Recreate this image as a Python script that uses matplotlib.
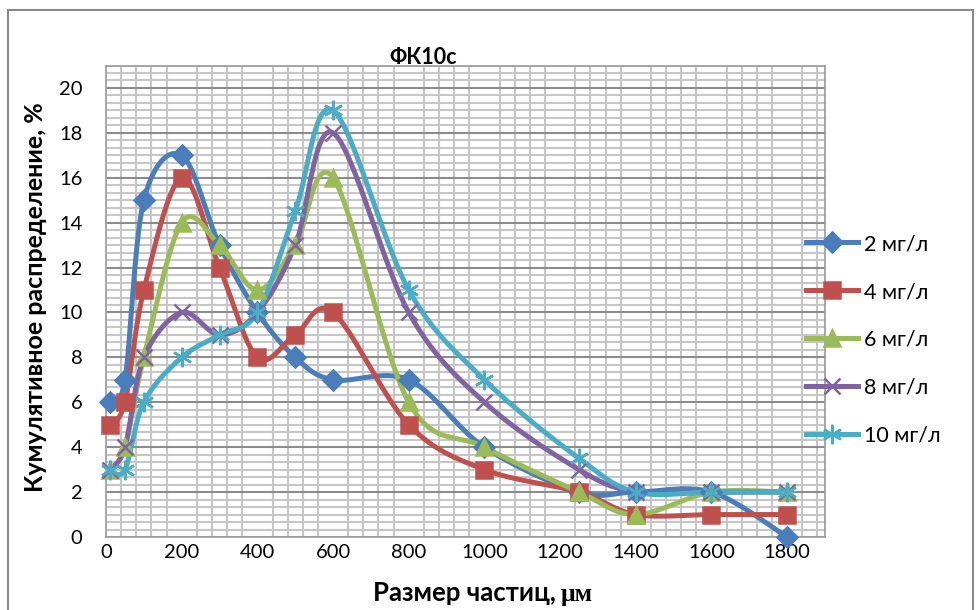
import matplotlib
matplotlib.use("Agg")
import matplotlib.pyplot as plt
from matplotlib.lines import Line2D
from matplotlib.patches import Rectangle
from matplotlib.ticker import MultipleLocator
import numpy as np

# размер частиц, мкм
sizes = [10, 50, 100, 200, 300, 400, 500, 600, 800, 1000, 1250, 1400, 1600, 1800]

c2 = [6, 7, 15, 17, 13, 10, 8, 7, 7, 4, 2, 2, 2, 0]
c4 = [5, 6, 11, 16, 12, 8, 9, 10, 5, 3, 2, 1, 1, 1]
c6 = [3, 4, 8, 14, 13, 11, 13, 16, 6, 4, 2, 1, 2, 2]
c8 = [3, 4, 8, 10, 9, 10, 13, 18, 10, 6, 3, 2, 2, 2]
c10 = [3, 3, 6, 8, 9, 10, 14.5, 19, 11, 7, 3.5, 2, 2, 2]

labels = ["2 мг/л", "4 мг/л", "6 мг/л", "8 мг/л", "10 мг/л"]
series = [c2, c4, c6, c8, c10]
colors = ["#4A7EBB", "#C0504D", "#9BBB59", "#8064A2", "#4BACC6"]
markers = ["D", "s", "^", "x", (6, 2, 0)]
msizes = [10, 12, 12, 12, 14]

FONT = ["Lato", "DejaVu Sans"]
plt.rcParams["font.family"] = FONT

W, H = 976, 610
fig = plt.figure(figsize=(W / 100, H / 100), dpi=100)
ax = fig.add_axes([106 / W, 1 - 537 / H, (825 - 106) / W, (537 - 65.5) / H])
ax.set_xlim(0, 1900)
ax.set_ylim(0, 21)


def smooth(ax, xs, ys, n=30):
    # кривая Безье как в Excel (сглаженная линия), в экранных координатах
    pts = ax.transData.transform(np.column_stack([xs, ys]))
    P = np.vstack([pts[0], pts, pts[-1]])
    out = []
    t = np.linspace(0, 1, n)[:, None]
    for i in range(len(pts) - 1):
        p0, p1, p2, p3 = P[i], P[i + 1], P[i + 2], P[i + 3]
        k1 = p1 + (p2 - p0) / 6
        k2 = p2 - (p3 - p1) / 6
        seg = (1 - t) ** 3 * p1 + 3 * (1 - t) ** 2 * t * k1 + 3 * (1 - t) * t ** 2 * k2 + t ** 3 * p2
        out.append(seg if i == 0 else seg[1:])
    return ax.transData.inverted().transform(np.vstack(out))


handles = []
for ys, col, mk, ms, lab in zip(series, colors, markers, msizes, labels):
    cur = smooth(ax, sizes, ys)
    ax.plot(cur[:, 0], cur[:, 1], color=col, lw=3.6, zorder=3, solid_capstyle="round")
    ax.plot(sizes, ys, ls="none", marker=mk, ms=ms, color=col, mec=col, mew=1.8, zorder=4,
            clip_on=False)
    handles.append(Line2D([], [], color=col, lw=3.6, marker=mk, ms=ms, mec=col, mew=1.8, label=lab))

# сетка
ax.xaxis.set_major_locator(MultipleLocator(200))
ax.xaxis.set_minor_locator(MultipleLocator(40))
ax.yaxis.set_major_locator(MultipleLocator(2))
ax.yaxis.set_minor_locator(MultipleLocator(1 / 3))
ax.grid(True, axis="y", which="major", color="#8c8c8c", lw=1.5, zorder=1)
ax.grid(True, axis="y", which="minor", color="#c6c6c6", lw=1.5, zorder=0)
ax.grid(True, axis="x", which="minor", color="#c6c6c6", lw=1.5, zorder=0)
ax.set_axisbelow(True)
ax.tick_params(which="both", length=0)
ax.tick_params(axis="y", pad=17, labelsize=14.5)
ax.tick_params(axis="x", pad=5, labelsize=14.5)
for s in ax.spines.values():
    s.set_color("#a0a0a0")
    s.set_linewidth(1.3)
ax.set_xticks(range(0, 1801, 200))

fig.text(423 / W, 1 - 57 / H, "ФК10с", ha="center", va="center", fontsize=15.5, fontweight="bold")
fig.text(36 / W, 1 - 297 / H, "Кумулятивное распределение, %", rotation=90, ha="center",
         va="center", fontsize=18, fontweight="bold")
fig.text(556 / W, 1 - 593 / H, "Размер частиц,", ha="right", va="center", fontsize=18.5,
         fontweight="bold")
fig.text(561 / W, 1 - 594 / H, "μм", ha="left", va="center", fontsize=18.5, fontweight="bold",
         family=["Liberation Serif", "DejaVu Serif"])

fig.legend(handles=handles, loc="center left", bbox_to_anchor=(806 / W, 1 - 340 / H),
           frameon=False, fontsize=15.5, handlelength=2.4, handletextpad=0.3,
           labelspacing=1.3, borderpad=0, borderaxespad=0)

fig.patches.append(Rectangle((8 / W, -0.05), (973 - 8) / W, 1.05 - 10 / H, transform=fig.transFigure,
                             fill=False, edgecolor="#8a8a8a", lw=1.5))

fig.savefig("out.png", dpi=100)
